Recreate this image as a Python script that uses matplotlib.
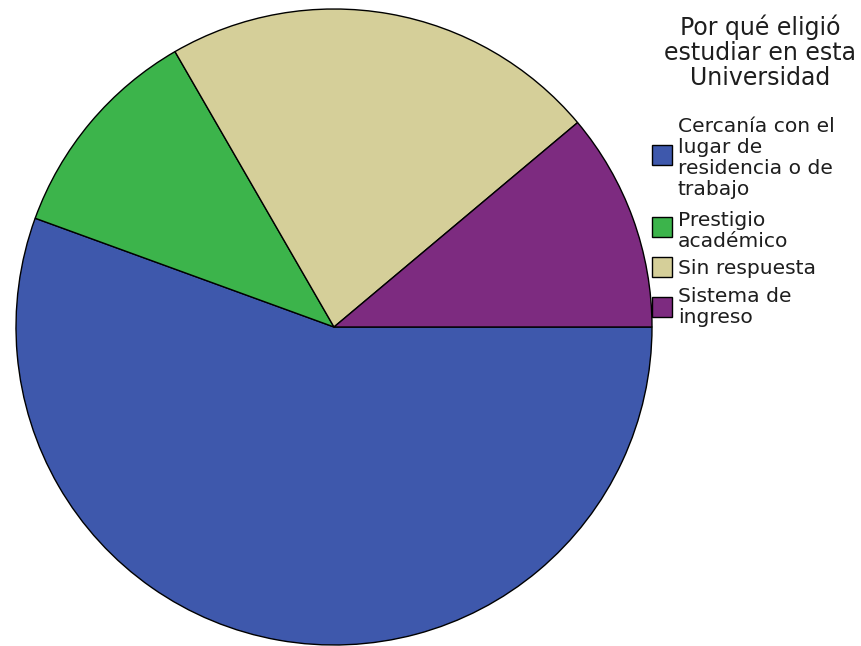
import matplotlib
matplotlib.use("Agg")
import matplotlib.pyplot as plt
from matplotlib.patches import Rectangle

categories = ["Cercanía con el\nlugar de\nresidencia o de\ntrabajo",
              "Prestigio\nacadémico",
              "Sin respuesta",
              "Sistema de\ningreso"]
values = [5, 1, 2, 1]
colors = ["#3E58AC", "#3CB44B", "#D5CF99", "#7D2B80"]
legend_title = "Por qué eligió\nestudiar en esta\nUniversidad"

W, H = 862, 646
fig = plt.figure(figsize=(W/100, H/100), dpi=100)
fig.patch.set_facecolor("white")

cx, cy, r = 334, 327, 318
ax = fig.add_axes([(cx - r)/W, (H - cy - r)/H, 2*r/W, 2*r/H])
ax.pie(values, colors=colors, startangle=0, counterclock=False,
       wedgeprops=dict(edgecolor="black", linewidth=1.0))
ax.set_xlim(-1, 1)
ax.set_ylim(-1, 1)
ax.set_aspect("equal")
ax.axis("off")

font = "DejaVu Sans"
tcol = "#1e1e1e"
for i, line in enumerate(legend_title.split("\n")):
    fig.text(760/W, 1 - (35 + 25*i)/H, line, ha="center", va="baseline",
             fontsize=17, family=font, color=tcol)

first_baselines = [132, 226, 274, 302]
square_centers = [155, 227, 267, 307]
for lab, col, b0, yc in zip(categories, colors, first_baselines, square_centers):
    fig.patches.append(Rectangle((652/W, 1 - (yc + 10)/H), 20/W, 20/H,
                                 transform=fig.transFigure, facecolor=col,
                                 edgecolor="black", linewidth=1.0))
    for j, line in enumerate(lab.split("\n")):
        fig.text(678/W, 1 - (b0 + 21*j)/H, line, ha="left", va="baseline",
                 fontsize=14.6, family=font, color=tcol)

fig.savefig("out.png", dpi=100)
